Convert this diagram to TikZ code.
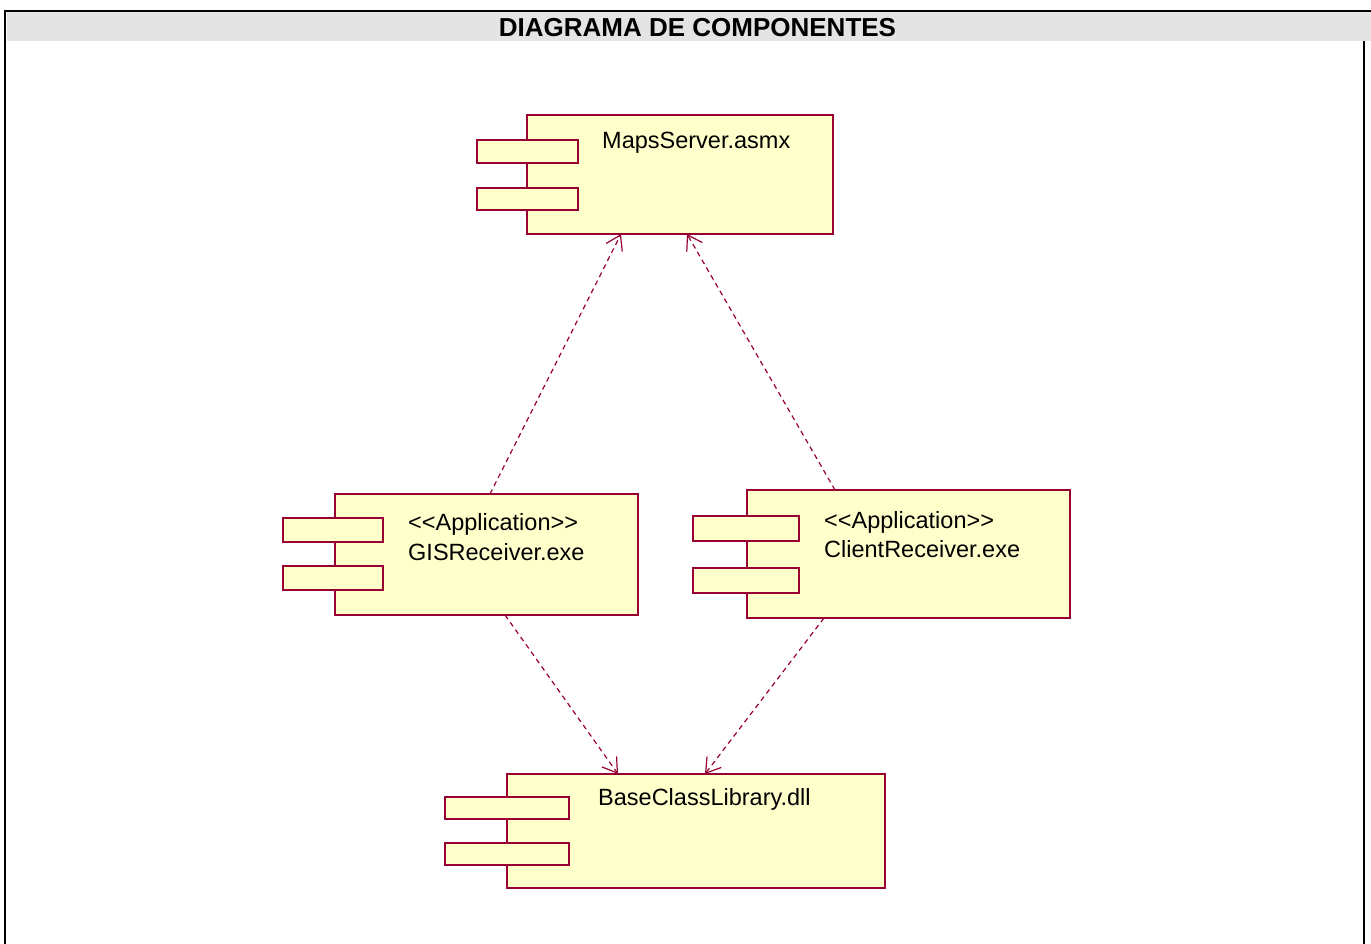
\documentclass[tikz,border=0pt]{standalone}
\usepackage{fontspec}
\newfontfamily\lblfont{Liberation Sans}
\usetikzlibrary{arrows.meta}
\definecolor{roseline}{RGB}{153,0,51}
\definecolor{rosefill}{RGB}{255,255,204}
\definecolor{headgrey}{RGB}{228,228,228}
\begin{document}
\begin{tikzpicture}[x=1pt,y=-1pt,
  part/.style={draw=roseline, fill=rosefill, line width=1.6pt,
    anchor=north west, inner sep=0pt, outer sep=0pt},
  lbl/.style={anchor=base west, inner sep=0pt,
    font=\lblfont\fontsize{23.5}{28}\selectfont},
  dep/.style={draw=roseline, line width=1.2pt, dash pattern=on 5pt off 4pt,
    -{Straight Barb[length=14pt,width=18pt,line width=1.2pt]}}]
\useasboundingbox (0,0) rectangle (1371,944);

% frame and header band
\fill[headgrey] (6.5,12.2) rectangle (1371,41);
\draw[line width=2.4pt] (5.2,944) -- (5.2,11) -- (1371,11);
\draw[line width=2.4pt] (1364,41) -- (1364,944);
\node[anchor=base, inner sep=0pt, font=\lblfont\bfseries\fontsize{26}{30}\selectfont]
  (title) at (697.5,37) {DIAGRAMA DE COMPONENTES};

% MapsServer.asmx
\node[part, minimum width=306pt, minimum height=119pt] (ms) at (527,115) {};
\node[part, minimum width=101pt, minimum height=23pt] (msA) at (477,140) {};
\node[part, minimum width=101pt, minimum height=22pt] (msB) at (477,188) {};
\node[lbl] (msL) at (602,149) {MapsServer.asmx};

% GISReceiver.exe
\node[part, minimum width=303pt, minimum height=121pt] (gis) at (335,494) {};
\node[part, minimum width=100pt, minimum height=24pt] (gisA) at (283,518) {};
\node[part, minimum width=100pt, minimum height=24pt] (gisB) at (283,566) {};
\node[lbl] (gisS) at (408,530) {<{}<Application>{}>};
\node[lbl] (gisL) at (408,560) {GISReceiver.exe};

% ClientReceiver.exe
\node[part, minimum width=323pt, minimum height=128pt] (cli) at (747,490) {};
\node[part, minimum width=106pt, minimum height=25pt] (cliA) at (693,516) {};
\node[part, minimum width=106pt, minimum height=25pt] (cliB) at (693,568) {};
\node[lbl] (cliS) at (824,528) {<{}<Application>{}>};
\node[lbl] (cliL) at (824,557) {ClientReceiver.exe};

% BaseClassLibrary.dll
\node[part, minimum width=378pt, minimum height=114pt] (bcl) at (507,774) {};
\node[part, minimum width=124pt, minimum height=22pt] (bclA) at (445,797) {};
\node[part, minimum width=124pt, minimum height=22pt] (bclB) at (445,843) {};
\node[lbl] (bclL) at (598,805) {BaseClassLibrary.dll};

% dependencies
\draw[dep] ([xshift=155pt]gis.north west) -- ([xshift=94pt]ms.south west);
\draw[dep] ([xshift=88pt]cli.north west) -- ([xshift=160pt]ms.south west);
\draw[dep] ([xshift=170pt]gis.south west) -- ([xshift=111pt]bcl.north west);
\draw[dep] ([xshift=77pt]cli.south west) -- ([xshift=198pt]bcl.north west);
\end{tikzpicture}
\end{document}
